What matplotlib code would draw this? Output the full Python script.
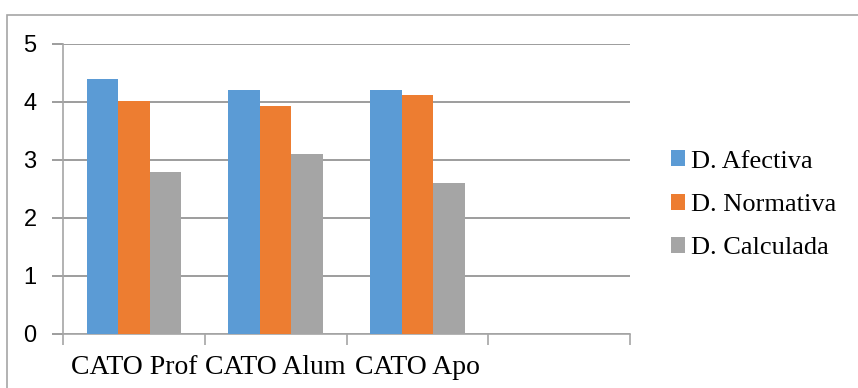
import matplotlib
matplotlib.use("Agg")
import matplotlib.pyplot as plt
import numpy as np
from matplotlib.patches import Rectangle

categories = ["CATO Prof", "CATO Alum", "CATO Apo", ""]
afectiva = [4.4, 4.2, 4.2, np.nan]
normativa = [4.02, 3.93, 4.12, np.nan]
calculada = [2.8, 3.1, 2.6, np.nan]
series = [("D. Afectiva", afectiva, "#5B9BD5"),
          ("D. Normativa", normativa, "#ED7D31"),
          ("D. Calculada", calculada, "#A5A5A5")]

fig = plt.figure(figsize=(8.58, 3.88), dpi=100)
fig.patches.append(Rectangle((7 / 858, -0.05), 1.0, 0.05 + (388 - 15) / 388, transform=fig.transFigure,
                             fill=False, ec="#a6a6a6", lw=1.2))
ax = fig.add_axes([63 / 858, 54 / 388, 567 / 858, 290 / 388])

x = np.arange(len(categories))
w = 0.222
for i, (lab, vals, col) in enumerate(series):
    ax.bar(x + (i - 1) * w, vals, w, color=col, label=lab, zorder=3)

ax.set_xlim(-0.5, len(categories) - 0.5)
ax.set_ylim(0, 5)
ax.set_yticks(range(6))
ax.grid(axis="y", color="#8c8c8c", lw=1.2, zorder=0)
for s in ["top", "right"]:
    ax.spines[s].set_visible(False)
for s in ["left", "bottom"]:
    ax.spines[s].set_color("#a6a6a6")
    ax.spines[s].set_linewidth(1.2)

ax.set_xticks(x)
ax.set_xticklabels(categories, family="Liberation Serif", fontsize=20)
ax.tick_params(axis="x", length=0, pad=15)
ax.set_xticks(np.arange(-0.5, len(categories)), minor=True)
ax.tick_params(axis="x", which="minor", length=8, color="#a6a6a6", width=1.2)
ax.tick_params(axis="y", length=8, color="#8c8c8c", width=1.2, pad=11, labelsize=17)
for t in ax.get_yticklabels():
    t.set_family("Liberation Sans")

ax.legend(loc="center left", bbox_to_anchor=(1.03, 0.445), frameon=False,
          prop={"family": "Liberation Serif", "size": 19},
          handlelength=0.55, handleheight=0.55, handletextpad=0.2, labelspacing=0.8)

plt.savefig("out.png", dpi=100)
